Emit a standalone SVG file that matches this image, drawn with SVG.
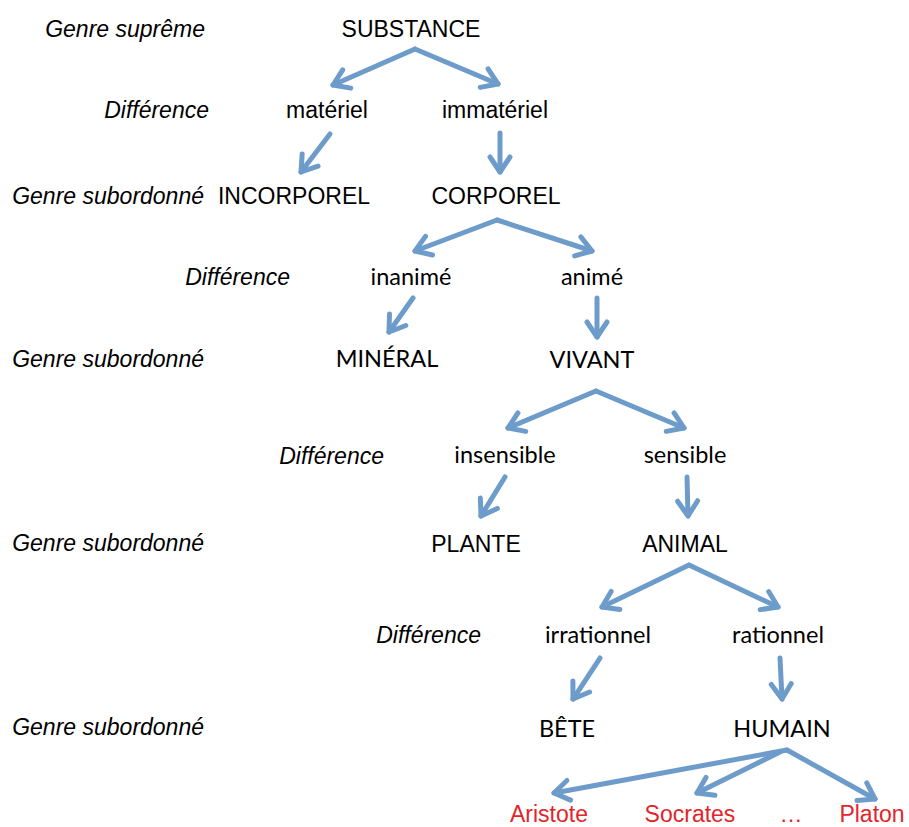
<svg xmlns="http://www.w3.org/2000/svg" width="909" height="827" viewBox="0 0 909 827">
<defs>
<style>
.lv{font-family:"Liberation Sans",Arial,sans-serif;font-style:italic;font-size:23px;fill:#000;text-anchor:end}
.a{font-family:"Liberation Sans",Arial,sans-serif;font-size:23px;fill:#000;text-anchor:middle}
.c{font-family:Lato,"Open Sans",sans-serif;font-size:23.5px;fill:#000;text-anchor:middle}
.r{font-family:"Liberation Sans",Arial,sans-serif;font-size:23px;fill:#e2252b;text-anchor:middle}
.e{fill:none;stroke:#6d9ccb;stroke-width:5;stroke-linecap:round;stroke-linejoin:round;marker-end:url(#ah)}
</style>
<marker id="ah" markerUnits="userSpaceOnUse" viewBox="-24 -14 28 28" markerWidth="28" markerHeight="28" refX="0" refY="0" orient="auto">
<path d="M-15,-10 L0,0 L-15,10" fill="none" stroke="#6d9ccb" stroke-width="5" stroke-linecap="round" stroke-linejoin="round"/>
</marker>
</defs>
<rect width="909" height="827" fill="#fff"/>
<g id="levels">
<text class="lv" x="205" y="37">Genre suprême</text>
<text class="lv" x="209" y="118">Différence</text>
<text class="lv" x="204" y="204">Genre subordonné</text>
<text class="lv" x="290" y="285">Différence</text>
<text class="lv" x="204" y="367">Genre subordonné</text>
<text class="lv" x="384" y="464">Différence</text>
<text class="lv" x="204" y="551">Genre subordonné</text>
<text class="lv" x="481" y="643">Différence</text>
<text class="lv" x="204" y="735">Genre subordonné</text>
</g>
<g id="connectors">
<path class="e" d="M415,49 L333,85"/>
<path class="e" d="M415,49 L498,84"/>
<path class="e" d="M330,134 L301,172"/>
<path class="e" d="M500,133 L500,172"/>
<path class="e" d="M497,220 L415,251"/>
<path class="e" d="M497,220 L592,251"/>
<path class="e" d="M413,298 L389,332"/>
<path class="e" d="M597,298 L597,337"/>
<path class="e" d="M596,391 L508,428"/>
<path class="e" d="M596,391 L684,428"/>
<path class="e" d="M505,477 L481,516"/>
<path class="e" d="M687,477 L688,516"/>
<path class="e" d="M689,565 L602,607"/>
<path class="e" d="M689,565 L778,607"/>
<path class="e" d="M600,658 L573,699"/>
<path class="e" d="M780,658 L782,699"/>
<path class="e" d="M787,750 L554,793"/>
<path class="e" d="M780,752 L697,793"/>
<path class="e" d="M787,750 L875,799"/>
</g>
<g id="n-substance"><text class="a" x="411" y="37">SUBSTANCE</text></g>
<g id="n-materiel"><text class="a" x="327" y="118">matériel</text></g>
<g id="n-immateriel"><text class="a" x="495" y="118">immatériel</text></g>
<g id="n-incorporel"><text class="a" x="294" y="204">INCORPOREL</text></g>
<g id="n-corporel"><text class="a" x="496" y="204">CORPOREL</text></g>
<g id="n-inanime"><text class="c" x="411" y="285">inanimé</text></g>
<g id="n-anime"><text class="c" x="592" y="285">animé</text></g>
<g id="n-mineral"><text class="c" x="387" y="367">MINÉRAL</text></g>
<g id="n-vivant"><text class="c" x="592" y="368">VIVANT</text></g>
<g id="n-insensible"><text class="c" x="505" y="463">insensible</text></g>
<g id="n-sensible"><text class="c" x="685" y="463">sensible</text></g>
<g id="n-plante"><text class="a" x="476" y="552">PLANTE</text></g>
<g id="n-animal"><text class="a" x="685" y="552">ANIMAL</text></g>
<g id="n-irrationnel"><text class="c" x="598" y="643">irrationnel</text></g>
<g id="n-rationnel"><text class="c" x="778" y="643">rationnel</text></g>
<g id="n-bete"><text class="c" x="567" y="737">BÊTE</text></g>
<g id="n-humain"><text class="c" x="782" y="737">HUMAIN</text></g>
<g id="n-aristote"><text class="r" x="549" y="822">Aristote</text></g>
<g id="n-socrates"><text class="r" x="690" y="822">Socrates</text></g>
<g id="n-etc"><text class="r" x="791" y="822">…</text></g>
<g id="n-platon"><text class="r" x="872" y="822">Platon</text></g>
</svg>
